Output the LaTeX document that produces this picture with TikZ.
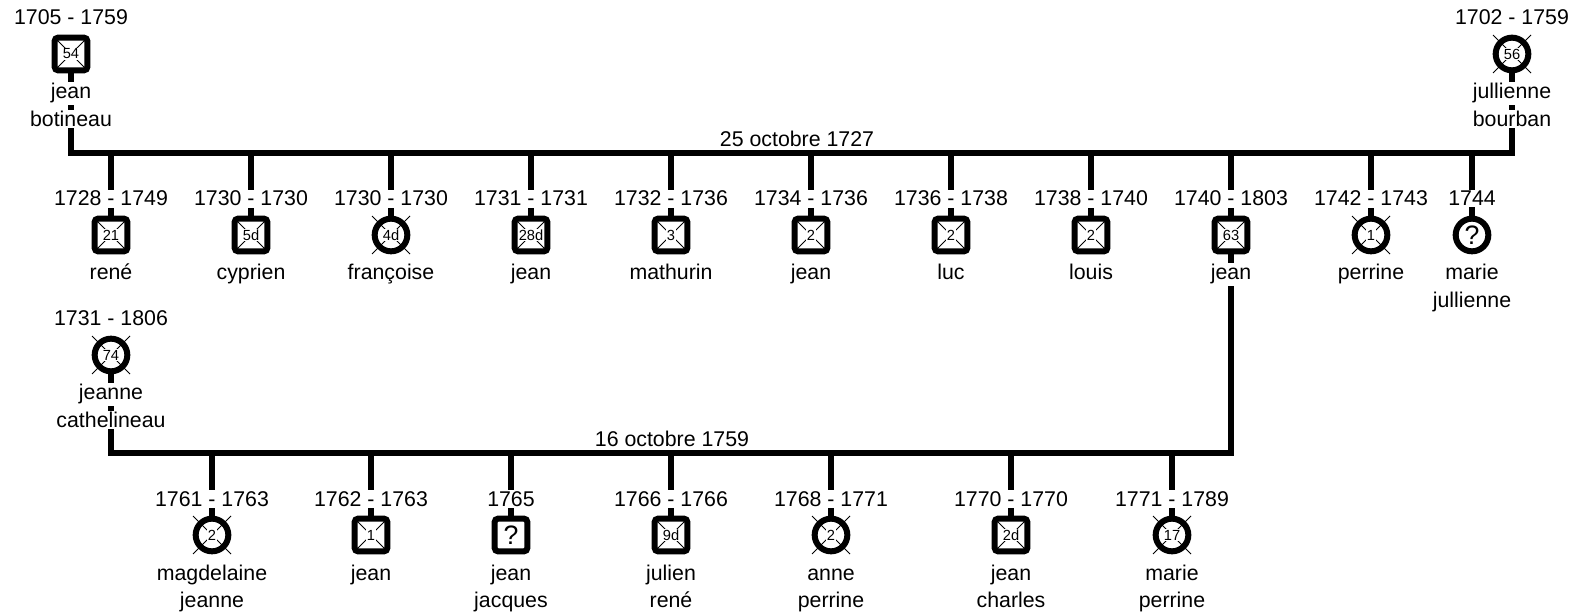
\documentclass[tikz,border=0pt]{standalone}
\usepackage{fontspec}
\setmainfont{Liberation Sans}
\usetikzlibrary{backgrounds}
\begin{document}
\begin{tikzpicture}[x=0.75pt,y=-0.75pt,
		lien/.style={line width=3.8pt},
		txt/.style={fill=white,inner sep=1pt,anchor=base,font=\fontsize{16}{18}\selectfont},
		noce/.style={inner sep=0pt,anchor=base,font=\fontsize{16}{18}\selectfont},
		homme/.style={draw,fill=white,line width=4.5pt,rounded corners=2.5pt,minimum size=24.5pt,inner sep=0pt},
		femme/.style={draw,fill=white,circle,line width=4.5pt,minimum size=24.5pt,inner sep=0pt},
		croix/.style={line width=0.7pt},
		age/.style={fill=white,inner sep=0.6pt,font=\fontsize{11}{12}\selectfont},
		inconnu/.style={inner sep=0pt,font=\fontsize{20}{22}\selectfont}]
				\useasboundingbox (0,0) rectangle (1581,616);

				\coordinate (m1) at (797,153);
				\coordinate (m2) at (672,453);

				\foreach \n/\x/\y/\s/\d/\nom in {
						jb/71/54/homme/1705 - 1759/jean,
						jub/1512/54/femme/1702 - 1759/jullienne,
						jc/111/355/femme/1731 - 1806/jeanne,
						e1/111/235/homme/1728 - 1749/rené,
						e2/251/235/homme/1730 - 1730/cyprien,
						e3/391/235/femme/1730 - 1730/françoise,
						e4/531/235/homme/1731 - 1731/jean,
						e5/671/235/homme/1732 - 1736/mathurin,
						e6/811/235/homme/1734 - 1736/jean,
						e7/951/235/homme/1736 - 1738/luc,
						e8/1091/235/homme/1738 - 1740/louis,
						e9/1231/235/homme/1740 - 1803/jean,
						e10/1371/235/femme/1742 - 1743/perrine,
						e11/1472/235/femme/1744/marie,
						f1/212/535/femme/1761 - 1763/magdelaine,
						f2/371/535/homme/1762 - 1763/jean,
						f3/511/535/homme/1765/jean,
						f4/671/535/homme/1766 - 1766/julien,
						f5/831/535/femme/1768 - 1771/anne,
						f6/1011/535/homme/1770 - 1770/jean,
						f7/1172/535/femme/1771 - 1789/marie}{
						\node[\s] (\n) at (\x,\y) {};
						\node[txt] (\n-d) at (\x,\y-29) {\d};
						\node[txt] (\n-n) at (\x,\y+45) {\nom};
					}

				\foreach \n/\x/\y/\nom in {jb/71/54/botineau, jub/1512/54/bourban, jc/111/355/cathelineau,
						e11/1472/235/jullienne, f1/212/535/jeanne, f3/511/535/jacques, f4/671/535/rené,
						f5/831/535/perrine, f6/1011/535/charles, f7/1172/535/perrine}{
						\node[txt] (\n-m) at (\x,\y+72.5) {\nom};
					}

				\foreach \n/\r/\a in {jb/13/54, jub/19/56, jc/19/74, e1/13/21, e2/13/5d, e3/19/4d,
						e4/13/28d, e5/13/3, e6/13/2, e7/13/2, e8/13/2, e9/13/63, e10/19/1,
						f1/19/2, f2/13/1, f4/13/9d, f5/19/2, f6/13/2d, f7/19/17}{
						\draw[croix] (\n) ++(-\r,-\r) -- ++(2*\r,2*\r) (\n) ++(\r,-\r) -- ++(-2*\r,2*\r);
						\node[age] (\n-a) at (\n) {\a};
					}
				\foreach \n in {e11, f3}{
						\node[inconnu] (\n-a) at (\n) {?};
					}

				\node[noce] (m1-t) at (797,146.5) {25 octobre 1727};
				\node[noce] (m2-t) at (672,446.5) {16 octobre 1759};

				\begin{pgfonlayer}{background}
						\draw[lien] (jb) |- (m1) -| (jub);
						\draw[lien] (jc) |- (m2) -| (e9);
						\foreach \i in {1, ..., 11}{
								\draw[lien] (e\i) -- (e\i |- m1);
							}
						\foreach \i in {1, ..., 7}{
								\draw[lien] (f\i) -- (f\i |- m2);
							}
					\end{pgfonlayer}
			\end{tikzpicture}
\end{document}
